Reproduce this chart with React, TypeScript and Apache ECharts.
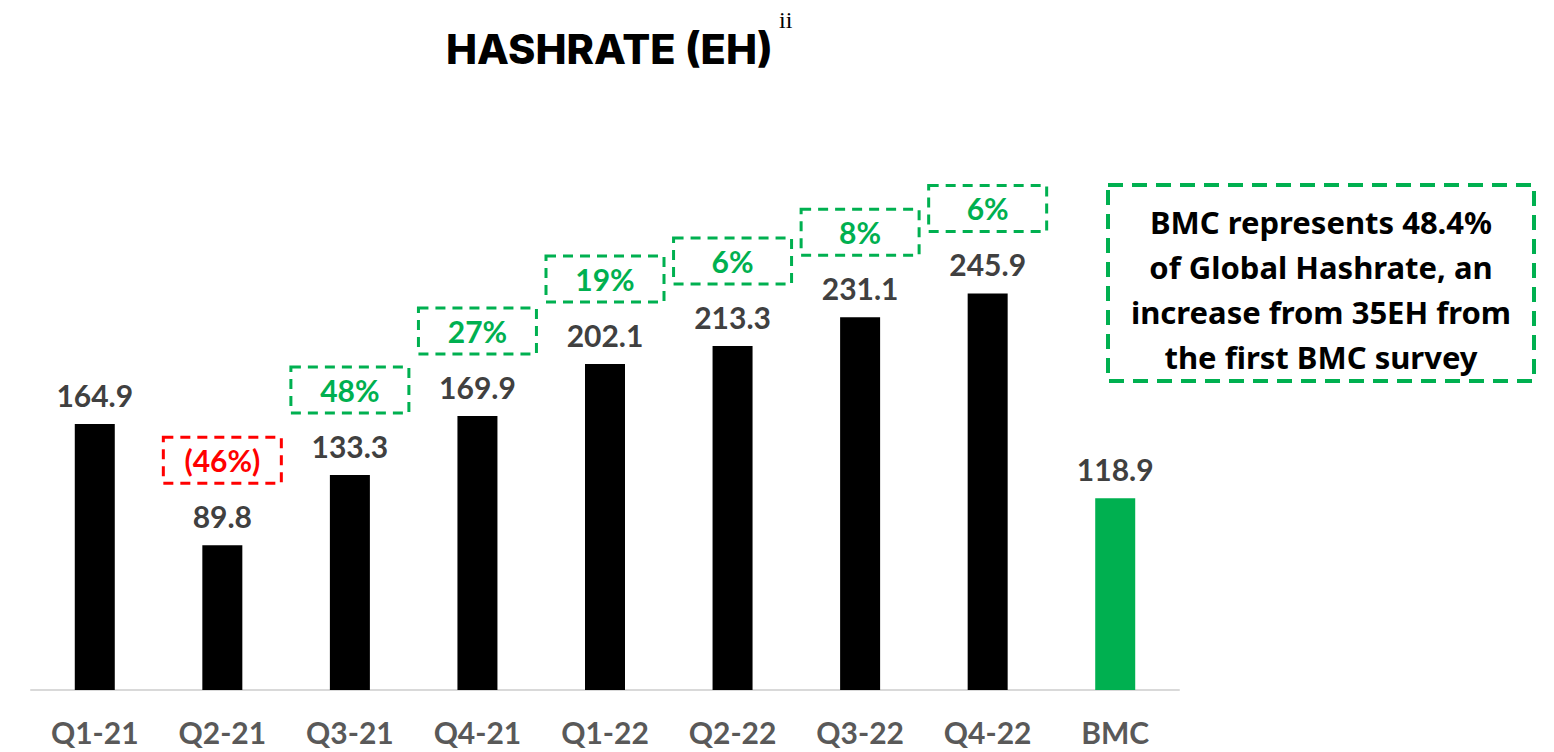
import React, { useEffect, useRef } from "react";
import * as echarts from "echarts";

const categories = ["Q1-21", "Q2-21", "Q3-21", "Q4-21", "Q1-22", "Q2-22", "Q3-22", "Q4-22", "BMC"];
const hashrate = [164.9, 89.8, 133.3, 169.9, 202.1, 213.3, 231.1, 245.9, 118.9];
const growthLabels = ["", "(46%)", "48%", "27%", "19%", "6%", "8%", "6%", ""];
const growthNegative = [false, true, false, false, false, false, false, false, false];
const barColors = ["#000000", "#000000", "#000000", "#000000", "#000000", "#000000", "#000000", "#000000", "#00B050"];
const titleText = "HASHRATE (EH)";
const noteLines = [
  "BMC represents 48.4%",
  "of Global Hashrate, an",
  "increase from 35EH from",
  "the first BMC survey",
];

const GREEN = "#00B050";
const RED = "#FF0000";
const GRAY = "#404040";

export default function App() {
  const ref = useRef<HTMLDivElement>(null);
  useEffect(() => {
    if (!ref.current) return;
    const chart = echarts.init(ref.current, null, { renderer: "svg" });
    const option: any = {
      animation: false,
      backgroundColor: "#ffffff",
      title: {
        text: titleText,
        left: 446,
        top: 28,
        padding: 0,
        textStyle: {
          fontFamily: "Inter",
          fontWeight: 800,
          fontSize: 41.5,
          color: "#000000",
        },
      },
      grid: { left: 31, right: 375, top: 45, bottom: 62, containLabel: false },
      xAxis: {
        type: "category",
        data: categories,
        axisLine: { show: true, lineStyle: { color: "#D9D9D9", width: 2 } },
        axisTick: { show: false },
        axisLabel: {
          margin: 27,
          fontFamily: "Lato",
          fontWeight: "bold",
          fontSize: 30,
          color: "#595959",
        },
      },
      yAxis: {
        type: "value",
        min: 0,
        max: 400,
        show: false,
        splitLine: { show: false },
      },
      series: [
        {
          type: "bar",
          barWidth: 40,
          data: hashrate.map((v, i) => ({ value: v, itemStyle: { color: barColors[i] } })),
          label: {
            show: true,
            position: "top",
            distance: 14,
            fontFamily: "Lato",
            fontWeight: "bold",
            fontSize: 30,
            color: GRAY,
            formatter: (p: any) => p.value.toFixed(1),
          },
          z: 2,
        },
        {
          type: "bar",
          barWidth: 40,
          barGap: "-100%",
          silent: true,
          data: hashrate.map((v, i) => ({
            value: v,
            itemStyle: { color: "rgba(0,0,0,0)" },
            label: {
              show: growthLabels[i] !== "",
              color: growthNegative[i] ? RED : GREEN,
              borderColor: growthNegative[i] ? RED : GREEN,
            },
          })),
          label: {
            show: true,
            position: "top",
            distance: 85,
            formatter: (p: any) => growthLabels[p.dataIndex],
            fontFamily: "Lato",
            fontWeight: "bold",
            fontSize: 30,
            width: 118,
            height: 46,
            lineHeight: 46,
            align: "center",
            verticalAlign: "middle",
            borderWidth: 3,
            borderType: [10, 7],
            padding: 0,
          },
          z: 1,
        },
      ],
      graphic: [
        {
          type: "text",
          left: 779,
          top: 8,
          style: {
            text: "ii",
            font: "24px 'Liberation Serif'",
            fill: "#000000",
          },
        },
        {
          type: "rect",
          shape: { x: 1108, y: 185, width: 426, height: 196 },
          style: {
            fill: "none",
            stroke: GREEN,
            lineWidth: 4,
            lineDash: [15, 9],
          },
        },
        {
          type: "text",
          x: 1321,
          y: 289,
          style: {
            text: noteLines.join("\n"),
            font: "bold 31px 'Noto Sans'",
            lineHeight: 45,
            fill: "#000000",
            textAlign: "center",
            textVerticalAlign: "middle",
          },
        },
      ],
    };
    chart.setOption(option);
    return () => chart.dispose();
  }, []);
  return (
    <div
      ref={ref}
      style={{ position: "fixed", left: 0, top: 0, width: 1554, height: 752, background: "#fff" }}
    />
  );
}
